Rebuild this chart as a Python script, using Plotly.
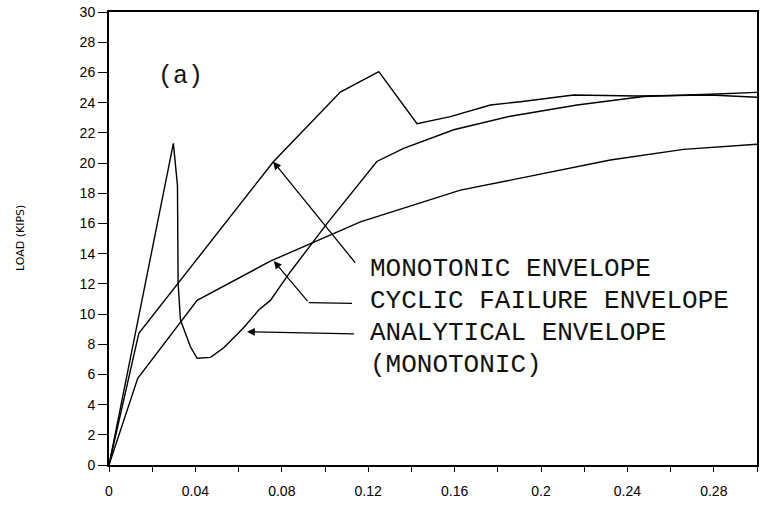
import plotly.graph_objects as go

# ---- data ----
disp_analytical = [0, 0.0298, 0.0317, 0.0320, 0.0331, 0.0377, 0.0408, 0.047, 0.053, 0.0622,
                   0.0693, 0.0747, 0.084, 0.101, 0.124, 0.1364, 0.1596, 0.1858, 0.2167, 0.2475, 0.2784, 0.30]
load_analytical = [0, 21.3, 18.5, 12.0, 9.6, 7.83, 7.07, 7.13, 7.75, 9.07,
                   10.26, 10.9, 12.8, 16.0, 20.1, 20.97, 22.2, 23.1, 23.84, 24.4, 24.55, 24.68]

disp_monotonic = [0, 0.0138, 0.0762, 0.1071, 0.1249, 0.1426, 0.158, 0.1766, 0.1905, 0.2151,
                  0.2445, 0.2784, 0.30]
load_monotonic = [0, 8.72, 20.1, 24.7, 26.05, 22.6, 23.07, 23.84, 24.06, 24.5,
                  24.44, 24.5, 24.35]

disp_cyclic = [0, 0.0133, 0.0408, 0.0747, 0.1164, 0.1627, 0.1905, 0.2321, 0.266, 0.30]
load_cyclic = [0, 5.74, 10.9, 13.5, 16.1, 18.2, 19.0, 20.2, 20.9, 21.24]

x_tickvals = [0, 0.04, 0.08, 0.12, 0.16, 0.2, 0.24, 0.28]
x_ticktext = ["0", "0.04", "0.08", "0.12", "0.16", "0.2", "0.24", "0.28"]
y_tickvals = list(range(0, 31, 2))

labels = ["MONOTONIC ENVELOPE", "CYCLIC FAILURE ENVELOPE", "ANALYTICAL ENVELOPE", "(MONOTONIC)"]
label_y = [12.98, 10.86, 8.74, 6.62]
label_x = 0.1201

line_style = dict(color="black", width=1.4)

W, H = 768, 508
ML, MR, MT, MB = 109, 11, 12, 43
PW, PH = W - ML - MR, H - MT - MB

fig = go.Figure()
for xs, ys, name in [(disp_analytical, load_analytical, "Analytical"),
                     (disp_monotonic, load_monotonic, "Monotonic"),
                     (disp_cyclic, load_cyclic, "Cyclic")]:
    fig.add_trace(go.Scatter(x=xs, y=ys, mode="lines", line=line_style, name=name,
                             showlegend=False, hoverinfo="skip"))

mono_font = dict(family="Liberation Mono", size=26, color="#111111")

for t, yy in zip(labels, label_y):
    fig.add_annotation(x=label_x, y=yy, text=t, showarrow=False, xanchor="left",
                       yanchor="middle", font=mono_font, xref="x", yref="y")

arrow_kw = dict(axref="x", ayref="y", xref="x", yref="y", text="", showarrow=True,
                arrowhead=2, arrowsize=1.2, arrowwidth=1.3, arrowcolor="black")
# monotonic leader
fig.add_annotation(x=0.0760, y=20.09, ax=0.1145, ay=13.31, **arrow_kw)
# cyclic leader (bent)
fig.add_shape(type="line", x0=0.0925, y0=10.75, x1=0.1125, y1=10.71,
              line=dict(color="black", width=1.3), xref="x", yref="y")
fig.add_annotation(x=0.0763, y=13.51, ax=0.0925, ay=10.75, **arrow_kw)
# analytical leader
fig.add_annotation(x=0.0639, y=8.83, ax=0.1141, ay=8.68, **arrow_kw)

# (a)
fig.add_annotation(x=0.0331, y=25.7, text="(a)", showarrow=False, xref="x", yref="y",
                   font=dict(family="Liberation Mono", size=25, color="#111111"))

# y axis title (pixel position converted to paper coords)
fig.add_annotation(x=(20 - ML) / PW, y=(465 - 238) / PH, xref="paper", yref="paper",
                   text="LOAD (KIPS)", showarrow=False, textangle=-90,
                   xanchor="center", yanchor="middle",
                   font=dict(family="DejaVu Sans", size=11, color="black"))

tick_font = dict(family="Liberation Sans", size=14, color="black")

fig.update_layout(
    width=W, height=H,
    margin=dict(l=ML, r=MR, t=MT, b=MB, autoexpand=False),
    paper_bgcolor="white", plot_bgcolor="white",
    xaxis=dict(range=[0, 0.30], tickvals=x_tickvals, ticktext=x_ticktext,
               ticks="outside", ticklen=5, tickwidth=1.3, tickcolor="black",
               minor=dict(dtick=0.02, tick0=0, ticks="outside", ticklen=5,
                          tickwidth=1.3, tickcolor="black"),
               showline=True, linecolor="black", linewidth=2, mirror=True,
               showgrid=False, zeroline=False, tickfont=tick_font,
               ticklabelstandoff=7, automargin=False),
    yaxis=dict(range=[0, 30], tickvals=y_tickvals, ticks="outside", ticklen=9,
               tickwidth=1.3, tickcolor="black",
               showline=True, linecolor="black", linewidth=2, mirror=True,
               showgrid=False, zeroline=False, tickfont=tick_font, automargin=False),
)

fig.write_html("out.html", config={"displayModeBar": False},
               post_script="document.body.style.margin='0';document.body.style.overflow='hidden';")
